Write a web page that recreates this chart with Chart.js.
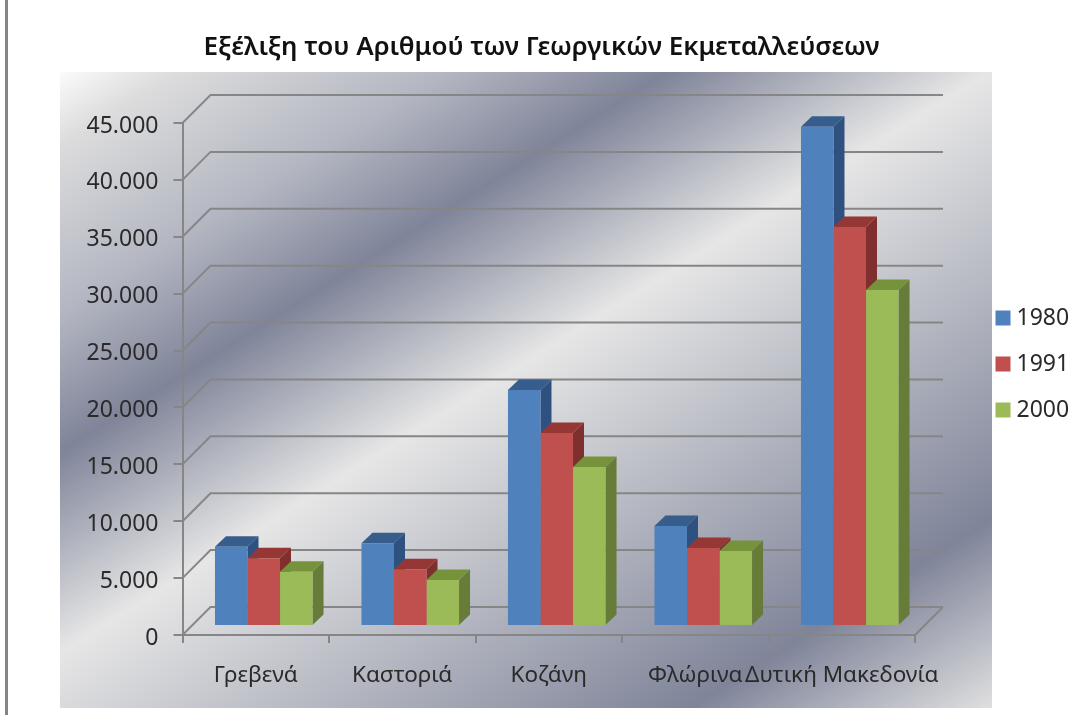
<!DOCTYPE html>
<html><head><meta charset="utf-8">
<style>html,body{margin:0;padding:0;background:#fff}canvas{display:block}</style>
<script src="https://cdn.jsdelivr.net/npm/chart.js@4"></script>
</head><body>
<canvas id="c" width="1082" height="715"></canvas>
<script>
const categories = ['Γρεβενά','Καστοριά','Κοζάνη','Φλώρινα','Δυτική Μακεδονία'];
const seriesNames = ['1980','1991','2000'];
const values1980 = [6970,7270,20740,8790,43880];
const values1991 = [5950,4980,16960,6860,35070];
const values2000 = [4770,4040,13970,6590,29530];
const titleText = 'Εξέλιξη του Αριθμού των Γεωργικών Εκμεταλλεύσεων';
const FONT = '"Noto Sans"';
const faces = ['#4F81BD','#C0504D','#9BBB59'];
const sides = ['#2F5180','#7F302E','#667C38'];
const tops  = ['#375D8C','#953735','#76933C'];
const WALL = 28, BAR_DX = 8, BAR_DY = -9, DEPTH_X = 11, DEPTH_Y = 10.5;

const scene = {
  id:'scene',
  beforeDraw(chart){
    const c = chart.ctx;
    c.save();
    c.fillStyle = '#fff'; c.fillRect(0,0,1082,715);
    c.fillStyle = '#858585'; c.fillRect(5,0,3,715);
    const g = c.createLinearGradient(60,72,607,947.5);
    [[0,'#fbfbfb'],[.06,'#dcdcdd'],[.2,'#b3b6c1'],[.312,'#7f8499'],[.477,'#e6e6e6'],[.846,'#7f8499'],[1,'#dfdfe0']]
      .forEach(s=>g.addColorStop(s[0],s[1]));
    c.fillStyle = g; c.fillRect(60,72,932,636);
    c.restore();
  },
  afterLayout(chart){
    const l = chart.legend, w = l.width, h = l.height;
    l.left = 1001 - l.options.labels.padding; l.right = l.left + w;
    l.top = 283.5; l.bottom = l.top + h;
    l.adjustHitBoxes();
    const t = chart.titleBlock;
    t.left += 54; t.right += 54;
  },
  beforeDatasetsDraw(chart){
    const c = chart.ctx, a = chart.chartArea, y = chart.scales.y;
    c.save();
    c.strokeStyle = '#868686'; c.lineWidth = 2;
    y.ticks.forEach(t=>{
      const py = y.getPixelForValue(t.value);
      c.beginPath();
      c.moveTo(a.left,py); c.lineTo(a.left+WALL,py-WALL); c.lineTo(a.right+WALL,py-WALL);
      if(t.value===0){ c.moveTo(a.right,py); c.lineTo(a.right+WALL,py-WALL); }
      c.stroke();
    });
    c.restore();
    c.save();
    c.translate(BAR_DX,BAR_DY);
    chart.data.datasets.forEach((d,i)=>{
      chart.getDatasetMeta(i).data.forEach(b=>{
        const L = b.x-b.width/2, R = b.x+b.width/2, T = b.y, B = b.base;
        c.fillStyle = sides[i];
        c.beginPath(); c.moveTo(R,T); c.lineTo(R+DEPTH_X,T-DEPTH_Y); c.lineTo(R+DEPTH_X,B-DEPTH_Y); c.lineTo(R,B); c.closePath(); c.fill();
        c.fillStyle = tops[i];
        c.beginPath(); c.moveTo(L,T); c.lineTo(L+DEPTH_X,T-DEPTH_Y); c.lineTo(R+DEPTH_X,T-DEPTH_Y); c.lineTo(R,T); c.closePath(); c.fill();
      });
    });
  },
  afterDatasetsDraw(chart){ chart.ctx.restore(); }
};

new Chart(document.getElementById('c'),{
  type:'bar',
  data:{labels:categories,datasets:[values1980,values1991,values2000].map((v,i)=>({
    label:seriesNames[i],data:v,backgroundColor:faces[i],borderWidth:0,clip:false,pointStyle:'rect',
    categoryPercentage:0.666,barPercentage:1
  }))},
  options:{
    responsive:false,animation:false,
    layout:{padding:{left:60,right:167,top:32,bottom:0}},
    plugins:{
      tooltip:{enabled:false},
      title:{display:true,text:titleText,color:'#111',font:{family:FONT,size:26,weight:'600',lineHeight:1.2},padding:{top:0,bottom:59.8}},
      legend:{position:'chartArea',align:'start',labels:{
        usePointStyle:true,pointStyle:'rect',boxWidth:4,boxHeight:15,padding:23,color:'#2a2a2a',
        font:{family:FONT,size:23}
      }}
    },
    scales:{
      x:{
        afterFit(s){s.height=80;},
        grid:{drawOnChartArea:false,color:'#868686',lineWidth:2,tickLength:8,offset:true},
        border:{color:'#868686',width:2},
        ticks:{autoSkip:false,maxRotation:0,minRotation:0,color:'#2a2a2a',padding:19,font:{family:FONT,size:22.5}}
      },
      y:{
        min:0,max:45000,
        afterFit(s){s.width=122.5;},
        grid:{drawOnChartArea:false,color:'#868686',lineWidth:2,tickLength:9},
        border:{color:'#868686',width:2},
        ticks:{stepSize:5000,color:'#2a2a2a',padding:15,labelOffset:3,font:{family:FONT,size:23},
          callback:v=>String(v).replace(/\B(?=(\d{3})+$)/g,'.')}
      }
    }
  },
  plugins:[scene]
});
</script>
</body></html>
